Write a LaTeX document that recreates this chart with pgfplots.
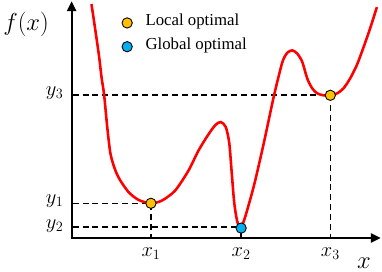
\documentclass[border=0pt]{standalone}
\usepackage{fontspec}
\setmainfont{Liberation Serif}
\usepackage{pgfplots}
\pgfplotsset{compat=1.18}
\usetikzlibrary{arrows.meta}
\definecolor{locc}{HTML}{FFC000}
\definecolor{gloc}{HTML}{00B0F0}
\begin{document}
\begin{tikzpicture}
\begin{axis}[
  scale only axis, width=382bp, height=280bp,
  xmin=0, xmax=382, ymin=0, ymax=280,
  hide axis, clip=false,
]
% axes
\addplot[black, line width=2.3pt, -{Triangle[length=10bp,width=9bp]}] coordinates {(69,39) (69,278)};
\addplot[black, line width=2.3pt, -{Triangle[length=10bp,width=9bp]}] coordinates {(68,39) (381,39)};
% dashed guides
\addplot[black, line width=1.6pt, dash pattern=on 6bp off 4bp] coordinates {(70,74) (149,74) (149,40)};
\addplot[black, line width=1.6pt, dash pattern=on 6bp off 4bp] coordinates {(70,50) (240,50)};
\addplot[black, line width=1.6pt, dash pattern=on 6bp off 4bp] coordinates {(70,183) (330,183) (330,40)};
\addplot[black, line width=1.6pt] coordinates {(240,40) (240,49)};
% curve
\addplot[red, line width=2.6pt, smooth, tension=0.45] coordinates {
(89,275) (93,248) (96.7,222) (99.3,200) (101.7,184) (105,150) (108.3,123.3) (113.3,106.7)
(118.3,96.7) (126.7,85) (136.7,77.3) (149,74) (160,76.7) (173.3,86.7) (186.7,106.7) (196.7,126.7)
(206,142) (214,153) (219.5,156) (224.5,151) (228,135) (230.5,105) (233,75)
(236,56) (239.5,49.5) (244,60) (253.3,93.3) (263.3,136.7) (273.3,183.3) (281.7,216.7)
(286.7,226) (291.7,228.3) (296.7,225) (301.7,216.7) (306.7,200) (311.7,190) (316.7,185) (323,183) (330,183)
(337,185) (343.3,190) (350,200) (356.7,213.3) (363,230) (370,250) (377,272)};
% markers
\addplot[only marks, mark=*, mark size=5.2bp, mark options={fill=locc, draw=black, line width=0.9pt}] coordinates {(149,74) (330,183) (125,256)};
\addplot[only marks, mark=*, mark size=5.2bp, mark options={fill=gloc, draw=black, line width=0.9pt}] coordinates {(240,49) (125,232)};
% texts
\node[anchor=west, font=\fontsize{17}{17}\selectfont] at (axis cs:140,257) {Local optimal};
\node[anchor=west, font=\fontsize{17}{17}\selectfont] at (axis cs:140,233) {Global optimal};
\node[anchor=east, font=\fontsize{20}{20}\selectfont] at (axis cs:64,185) {$y_3$};
\node[anchor=east, font=\fontsize{20}{20}\selectfont] at (axis cs:64,76) {$y_1$};
\node[anchor=east, font=\fontsize{20}{20}\selectfont] at (axis cs:64,51) {$y_2$};
\node[font=\fontsize{20}{20}\selectfont] at (axis cs:149,23) {$x_1$};
\node[font=\fontsize{20}{20}\selectfont] at (axis cs:240,23) {$x_2$};
\node[font=\fontsize{20}{20}\selectfont] at (axis cs:330,23) {$x_3$};
\node[font=\fontsize{36}{36}\selectfont] at (axis cs:364,14) {$x$};
\node[font=\fontsize{29}{29}\selectfont] at (axis cs:23,255) {$f(x)$};
\end{axis}
\end{tikzpicture}
\end{document}
